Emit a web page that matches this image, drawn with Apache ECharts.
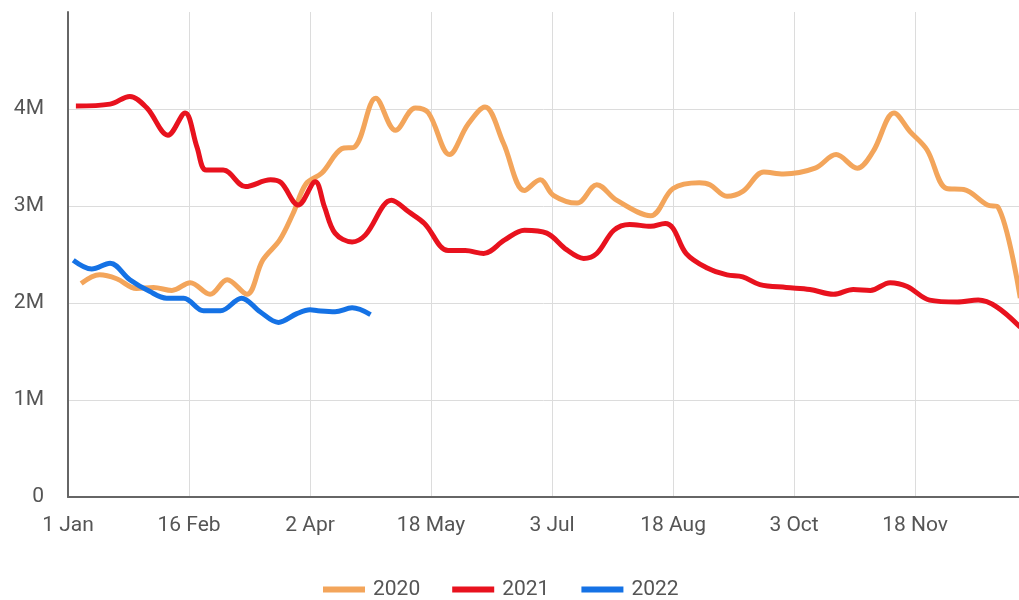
<!DOCTYPE html>
<html>
<head>
<meta charset="utf-8">
<script src="https://cdn.jsdelivr.net/npm/echarts@6/dist/echarts.min.js"></script>
<style>
  html, body { margin: 0; padding: 0; background: #fff; }
  #main { width: 1019px; height: 600px; }
</style>
</head>
<body>
<div id="main"></div>
<script>
// day of year (0 = 1 Jan) and value in millions
var days2020 = [5, 12, 18.5, 26, 32.5, 39.5, 46.5, 54, 60.5, 68, 74, 80.5, 85.5, 90.5, 96.5, 104, 109, 117, 124.5, 132, 137, 145, 152, 158.5, 165.5, 173.5, 179.5, 184.5, 193.5, 201, 208.5, 221.5, 230, 240, 244, 250.5, 256.5, 264.5, 272, 284, 292, 300, 306, 314, 320, 326.5, 334, 340.5, 349.5, 353.5, 362];
var vals2020 = [2.20, 2.29, 2.25, 2.15, 2.16, 2.13, 2.21, 2.09, 2.24, 2.09, 2.44, 2.65, 2.92, 3.23, 3.34, 3.59, 3.61, 4.11, 3.78, 4.01, 3.96, 3.53, 3.84, 4.02, 3.65, 3.16, 3.27, 3.11, 3.03, 3.22, 3.06, 2.90, 3.18, 3.24, 3.22, 3.10, 3.15, 3.35, 3.33, 3.39, 3.53, 3.39, 3.56, 3.96, 3.77, 3.58, 3.18, 3.17, 3.01, 2.99, 2.05];

var days2021 = [3, 16, 23.5, 30, 38, 44.5, 49, 52.5, 59, 67.5, 77, 81, 87.5, 94, 97.5, 101.5, 108, 113, 123, 129.5, 135.5, 144.5, 151, 158, 166, 173.5, 182, 189.5, 196, 201, 207.5, 213.5, 221.5, 227, 230, 235, 243, 250.5, 256.5, 263, 273, 282, 291, 298.5, 305, 312.5, 319, 327.5, 338, 346, 353, 362];
var vals2021 = [4.03, 4.05, 4.13, 4.01, 3.73, 3.96, 3.61, 3.37, 3.37, 3.20, 3.27, 3.24, 3.01, 3.25, 2.99, 2.72, 2.63, 2.70, 3.06, 2.94, 2.82, 2.54, 2.54, 2.51, 2.65, 2.75, 2.72, 2.55, 2.46, 2.51, 2.75, 2.81, 2.79, 2.82, 2.77, 2.51, 2.36, 2.29, 2.27, 2.19, 2.16, 2.14, 2.09, 2.14, 2.13, 2.21, 2.17, 2.03, 2.01, 2.03, 1.96, 1.75];

var days2022 = [2, 9, 16, 23.5, 31, 37.5, 44, 51.5, 58, 66, 73, 80, 87, 92, 95, 101.5, 108, 115];
var vals2022 = [2.44, 2.35, 2.41, 2.24, 2.12, 2.05, 2.05, 1.92, 1.92, 2.05, 1.91, 1.80, 1.89, 1.93, 1.92, 1.91, 1.95, 1.88];

var years = ['2020', '2021', '2022'];
var colors = ['#f3a55b', '#e8121e', '#1572e5'];
var xTickLabels = ['1 Jan', '16 Feb', '2 Apr', '18 May', '3 Jul', '18 Aug', '3 Oct', '18 Nov'];
var tickStep = 46;

function zip(d, v) {
  return d.map(function (x, i) { return [x, v[i]]; });
}

var seriesData = [zip(days2020, vals2020), zip(days2021, vals2021), zip(days2022, vals2022)];

var chart = echarts.init(document.getElementById('main'), null, { renderer: 'canvas' });
var font = 'Roboto, "Noto Sans", sans-serif';

chart.setOption({
  animation: false,
  color: colors,
  grid: { left: 68, right: 0, top: 12, bottom: 103, containLabel: false },
  legend: {
    left: 318,
    top: 574,
    icon: 'rect',
    itemWidth: 42,
    itemHeight: 6,
    itemGap: 32,
    textStyle: { fontFamily: font, fontSize: 21, color: '#555', padding: [0, 0, 0, 3] },
    data: years
  },
  xAxis: {
    type: 'value',
    min: 0,
    max: 361.5,
    interval: tickStep,
    axisLine: { show: true, lineStyle: { color: '#666', width: 2 } },
    axisTick: { show: false },
    splitLine: { show: true, lineStyle: { color: '#dcdcdc', width: 1 } },
    axisLabel: {
      margin: 18,
      fontFamily: font,
      fontSize: 21,
      color: '#555',
      showMaxLabel: false,
      formatter: function (v) {
        if (v % tickStep !== 0) return '';
        return xTickLabels[v / tickStep] || '';
      }
    }
  },
  yAxis: {
    type: 'value',
    min: 0,
    max: 5,
    interval: 1,
    axisLine: { show: true, lineStyle: { color: '#666', width: 2 } },
    axisTick: { show: false },
    splitLine: { show: true, showMaxLine: false, lineStyle: { color: '#dcdcdc', width: 1 } },
    axisLabel: {
      margin: 24,
      fontFamily: font,
      fontSize: 21,
      color: '#555',
      showMaxLabel: false,
      formatter: function (v) { return v === 0 ? '0' : v + 'M'; }
    }
  },
  series: years.map(function (y, i) {
    return {
      name: y,
      type: 'line',
      data: seriesData[i],
      smooth: 0.35,
      showSymbol: false,
      symbol: 'none',
      lineStyle: { width: 5, color: colors[i] },
      z: 2 + i
    };
  })
});
</script>
</body>
</html>
